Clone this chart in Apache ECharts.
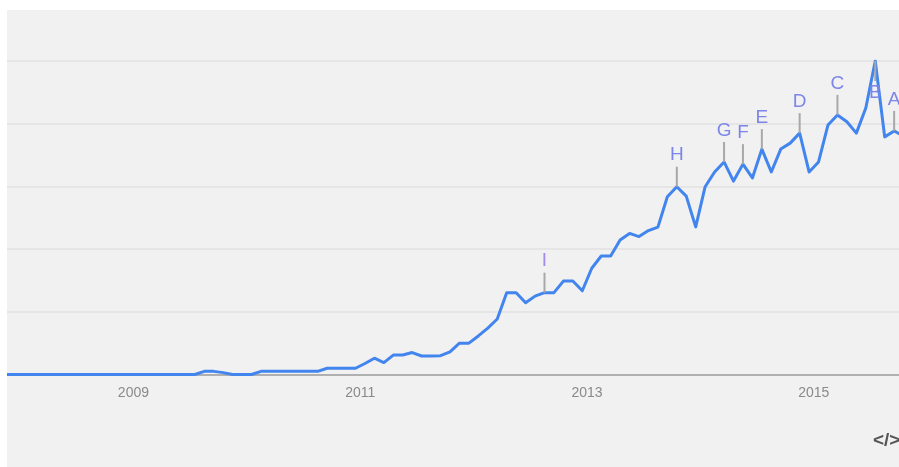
<!DOCTYPE html>
<html>
<head>
<meta charset="utf-8">
<script src="https://cdn.jsdelivr.net/npm/echarts@6/dist/echarts.min.js"></script>
<style>
  html, body { margin: 0; padding: 0; background: #ffffff; width: 899px; height: 467px; overflow: hidden; }
  #chart { position: absolute; left: 7px; top: 10px; width: 892px; height: 457px; background: #f1f1f1; }
</style>
</head>
<body>
<div id="chart"></div>
<script>
// Monthly interest values, starting November 2007
const startYear = 2007;
const startMonth = 11;
const interest = [
  0, 0, 0, 0, 0, 0, 0, 0, 0, 0, 0, 0, 0, 0, 0, 0, 0, 0, 0, 0, 0,
  1, 1, 0.6, 0, 0, 0,
  1, 1, 1, 1, 1, 1, 1,
  2, 2, 2, 2,
  3.5, 5.2, 3.8, 6.2, 6.2, 7, 5.9, 5.9, 6, 7.2,
  10, 10, 12.3, 14.8, 17.7, 26.1, 26.1, 22.9, 25, 26.1, 26.1, 29.8, 29.8, 26.7,
  33.9, 37.8, 37.8, 42.9, 45, 44, 45.9, 47, 56.7, 59.9, 56.9, 47.1, 59.9,
  64.6, 67.8, 61.7, 67.1, 62.7, 71.9, 64.6, 71.9, 73.8, 77, 64.6, 67.8,
  79.6, 82.8, 80.6, 77, 85, 100, 75.8, 77.7, 76
];
// Annotation flags: letter, month index into interest, placed below the point?
const flagLetters = ['I', 'H', 'G', 'F', 'E', 'D', 'C', 'B', 'A'];
const flagMonths  = [57, 71, 76, 78, 80, 84, 88, 92, 94];
const flagBelow   = [false, false, false, false, false, false, false, true, false];
// Year tick labels
const yearTicks = [2009, 2011, 2013, 2015];

function monthPos(i) {
  // middle of month i counted from the start month
  return startYear + (startMonth - 1 + i + 0.5) / 12;
}

const lineData = interest.map((v, i) => [monthPos(i), v]);
const flagData = flagLetters.map((l, k) => [monthPos(flagMonths[k]), interest[flagMonths[k]], l, flagBelow[k] ? 1 : 0]);

const chart = echarts.init(document.getElementById('chart'), null, { renderer: 'canvas' });
chart.setOption({
  backgroundColor: 'transparent',
  animation: false,
  grid: { left: 0, right: 0, top: 51, bottom: 92.5, containLabel: false },
  xAxis: {
    type: 'value',
    min: 2007.88514,
    max: 2015.7511,
    axisLine: { show: true, onZero: false, lineStyle: { color: '#b0b0b0', width: 2 } },
    axisTick: { show: false },
    splitLine: { show: false },
    axisLabel: {
      customValues: yearTicks,
      formatter: v => String(Math.round(v)),
      color: '#8a8a8a',
      fontSize: 14,
      fontFamily: 'Liberation Sans, Arial, sans-serif',
      margin: 12
    }
  },
  yAxis: {
    type: 'value',
    min: 0,
    max: 100,
    interval: 20,
    axisLine: { show: false },
    axisTick: { show: false },
    axisLabel: { show: false },
    splitLine: { show: true, lineStyle: { color: '#e5e5e5', width: 2 } }
  },
  graphic: [{
    type: 'text',
    left: 866,
    top: 421,
    style: { text: '</>', fill: '#555555', font: 'bold 19px "Liberation Sans", Arial, sans-serif' }
  }],
  series: [{
    type: 'line',
    data: lineData,
    symbol: 'none',
    clip: true,
    lineStyle: { color: '#4285ee', width: 3, join: 'round' },
    z: 3
  }, {
    type: 'custom',
    data: flagData,
    z: 5,
    clip: false,
    renderItem: function (params, api) {
      const p = api.coord([api.value(0), api.value(1)]);
      const below = api.value(3) === 1;
      const dir = below ? 1 : -1;
      const letter = flagLetters[params.dataIndex];
      return {
        type: 'group',
        children: [{
          type: 'line',
          shape: { x1: p[0], y1: p[1], x2: p[0], y2: p[1] + dir * 20 },
          style: { stroke: '#a8a8a8', lineWidth: 2 }
        }, {
          type: 'text',
          style: {
            x: p[0],
            y: p[1] + dir * 22,
            text: letter,
            fill: letter === 'I' ? '#a58ae8' : '#7c86e8',
            font: '19px "Liberation Sans", Arial, sans-serif',
            textAlign: 'center',
            textVerticalAlign: below ? 'top' : 'bottom'
          }
        }]
      };
    }
  }]
});
</script>
</body>
</html>
